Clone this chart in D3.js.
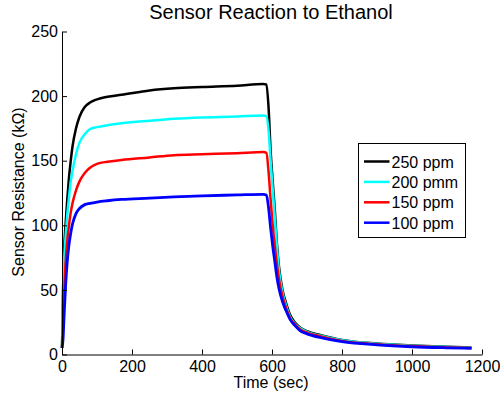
<!DOCTYPE html>
<html>
<head>
<meta charset="utf-8">
<script src="https://cdn.jsdelivr.net/npm/d3@7"></script>
<style>
  body { margin: 0; background: #fff; }
  text { font-family: "Liberation Sans", Arial, Helvetica, sans-serif; fill: #000; }
</style>
</head>
<body>
<div id="chart"></div>
<script>
  // time grid (sec), shared by all series
  let times = [0, 3, 6, 10, 15, 20, 25, 30, 40, 50, 65, 80, 100, 130, 170, 250, 320, 400, 500, 575,
               584, 590, 596, 602, 608, 614, 620, 630, 640, 652, 665, 680, 700, 740, 800, 900, 1000, 1100, 1170]

  let ppm250 = [5, 50, 80, 100, 120, 137, 150, 161, 175, 184, 191.5, 195, 197.5, 199.5, 201, 204.3, 206, 207, 208, 209.3,
                209, 192, 158, 134, 112, 86, 68, 50, 40, 30.5, 25, 21, 18, 15, 11.3, 8.5, 7, 6, 5.5]
  let ppm200 = [5, 45, 72, 90, 108, 122, 134, 142, 155, 164, 170.5, 174.5, 176, 177.5, 179, 181, 182.5, 183.5, 184.2, 185,
                184.5, 174, 150, 128, 106, 83, 65, 48, 38, 29, 24, 20.5, 17.5, 14.5, 11, 8.3, 6.8, 5.8, 5.3]
  let ppm150 = [5, 25, 45, 70, 88, 100, 110, 117, 127, 134, 140.5, 144.5, 147.5, 149.2, 150.5, 152.5, 154.3, 155, 155.8, 156.7,
                156, 142, 120, 100, 84, 70, 58, 45, 36, 28, 23.5, 19.5, 17, 14, 10.5, 8, 6.5, 5.5, 5]
  let ppm100 = [5, 12, 30, 52, 72, 85, 94, 101, 109, 113, 116, 117, 118, 119, 120, 121, 122, 122.8, 123.5, 124,
                123.5, 114, 98, 84, 72, 60, 51, 41, 34, 27, 22.5, 18.5, 16, 13, 10, 7.5, 6, 5.2, 4.8]

  let seriesNames  = ['250 ppm', '200 pmm', '150 ppm', '100 ppm']
  let seriesValues = [ppm250, ppm200, ppm150, ppm100]
  let seriesColors = ['#000000', '#00ffff', '#ff0000', '#0000ff']

  let xTicks = [0, 200, 400, 600, 800, 1000, 1200]
  let yTicks = [0, 50, 100, 150, 200, 250]

  let width = 500, height = 395

  let svg = d3.select('#chart')
              .append('svg:svg')
              .attr('width', width)
              .attr('height', height)

  let x = d3.scaleLinear().domain([0, 1200]).range([62, 482]),
      y = d3.scaleLinear().domain([0, 250]).range([354.5, 31.5])

  let lineFunction = d3.line()
                       .x(function(d) { return x(d.t) })
                       .y(function(d) { return y(d.v) })
                       .curve(d3.curveMonotoneX)

  let series = seriesNames.map(function(name, i) {
    return { name: name, color: seriesColors[i],
             points: times.map(function(t, j) { return { t: t, v: seriesValues[i][j] } }) } })

  // lines
  svg.append('svg:g').attr('id', 'lines')
    .selectAll('path').data(series)
    .enter()
    .append('svg:path')
      .attr('fill', 'none')
      .attr('stroke', function(d) { return d.color })
      .attr('stroke-width', function(d, i) { return i === 3 ? 2.8 : 2.5 })
      .attr('stroke-linejoin', 'round')
      .attr('d', function(d) { return lineFunction(d.points) })

  // axes (MATLAB style, ticks inward, no box)
  svg.append('svg:g')
    .attr('transform', 'translate(0,' + y(0) + ')')
    .call(d3.axisBottom(x).tickValues(xTicks).tickFormat(d3.format('d'))
            .tickSizeInner(-5).tickSizeOuter(0).tickPadding(6))
  svg.append('svg:g')
    .attr('transform', 'translate(' + x(0) + ',0)')
    .call(d3.axisLeft(y).tickValues(yTicks).tickFormat(d3.format('d'))
            .tickSizeInner(-5).tickSizeOuter(0).tickPadding(4))

  svg.selectAll('.tick text').attr('font-size', 16).attr('font-family', null)
  svg.selectAll('.domain, .tick line').attr('stroke', '#000').attr('stroke-width', 1)

  // title and labels
  svg.append('svg:text')
    .attr('x', 271).attr('y', 19)
    .attr('text-anchor', 'middle')
    .attr('font-size', 20)
    .text('Sensor Reaction to Ethanol')

  svg.append('svg:text')
    .attr('x', 271).attr('y', 388)
    .attr('text-anchor', 'middle')
    .attr('font-size', 16)
    .text('Time (sec)')

  svg.append('svg:text')
    .attr('transform', 'translate(23.5,192) rotate(-90)')
    .attr('text-anchor', 'middle')
    .attr('font-size', 16)
    .text('Sensor Resistance (k\u03A9)')

  // legend
  let legend = svg.append('svg:g').attr('id', 'legend')
  legend.append('svg:rect')
    .attr('x', 358.5).attr('y', 143.5)
    .attr('width', 107).attr('height', 94)
    .attr('fill', '#fff')
    .attr('stroke', '#000')
    .attr('stroke-width', 1)

  let items = legend.selectAll('g.item').data(series)
    .enter()
    .append('svg:g')
      .attr('class', 'item')
      .attr('transform', function(d, i) { return 'translate(0,' + (161.5 + i * 20.4) + ')' })
  items.append('svg:line')
    .attr('x1', 364).attr('x2', 389.5)
    .attr('y1', 0).attr('y2', 0)
    .attr('stroke', function(d) { return d.color })
    .attr('stroke-width', 2.5)
  items.append('svg:text')
    .attr('x', 391.5).attr('y', 6)
    .attr('font-size', 16)
    .text(function(d) { return d.name })
</script>
</body>
</html>
